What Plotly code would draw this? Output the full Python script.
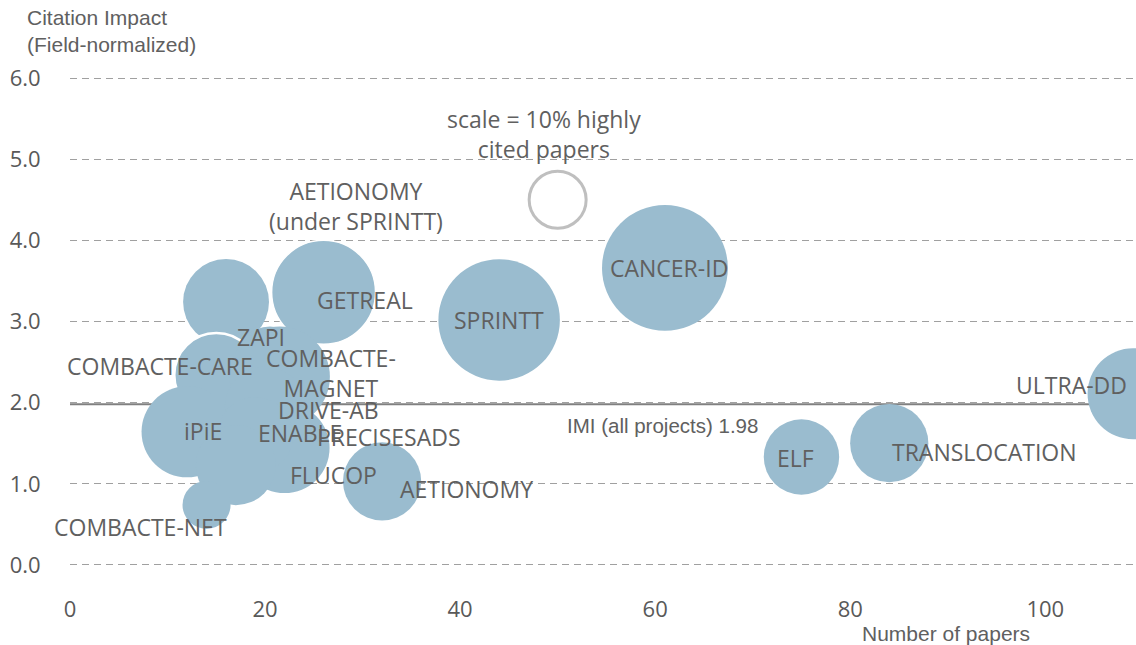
import plotly.graph_objects as go

# ---------------- data ----------------
projects = ["AETIONOMY<br>(under SPRINTT)", "GETREAL", "SPRINTT", "CANCER-ID", "ULTRA-DD",
            "TRANSLOCATION", "ELF", "AETIONOMY", "COMBACTE-CARE", "iPiE", "ZAPI",
            "COMBACTE-<br>MAGNET", "DRIVE-AB", "ENABLE", "PRECISESADS", "FLUCOP", "COMBACTE-NET"]
papers = [16, 26, 44, 61, 109, 84, 75, 32, 15, 12, 20.5, 21.5, 20, 22, 19, 17, 14]
impact = [3.24, 3.36, 3.02, 3.66, 2.11, 1.50, 1.33, 1.03, 2.34, 1.64, 2.5, 2.32, 1.95, 1.44, 1.6, 1.23, 0.74]
highly_cited = [20.5, 30, 41, 44, 23, 17, 15.8, 17, 19.6, 23, 14, 28, 18, 22.5, 16, 17.8, 6.4]

scale_value = 10
scale_x, scale_y = 50, 4.5
imi_all = 1.98

x_ticks = [0, 20, 40, 60, 80, 100]
y_ticks = [0, 1, 2, 3, 4, 5, 6]

# ---------------- style ----------------
label_dx = [13.3, 4.2, 0, 0.4, -6.3, 9.8, -0.6, 8.7, -5.8, 1.6, -0.9, 5.3, 6.5, 1.6, 13.7, 10.0, -6.8]
label_dy = [1.18, -0.1, 0, 0, 0.11, -0.11, -0.01, -0.09, 0.11, 0.01, 0.31, 0.04, -0.04, 0.19, -0.02, -0.12, -0.27]
outline_w = [0, 1.5, 0, 0, 0, 0, 0, 0, 2.5, 0, 0, 0, 0, 0, 0, 0, 0]

BLUE = "#9ABCCF"
TXT = "#606060"
px_per_sqrt = 60 / (scale_value ** 0.5)   # diameter scale (px per sqrt unit)

fig = go.Figure()

fig.add_trace(go.Scatter(
    x=papers, y=impact, mode="markers",
    marker=dict(size=[px_per_sqrt * v ** 0.5 for v in highly_cited], sizemode="diameter",
                color=BLUE, opacity=1,
                line=dict(color="white", width=outline_w)),
    hovertext=projects, showlegend=False, cliponaxis=True))

fig.add_trace(go.Scatter(
    x=[scale_x], y=[scale_y], mode="markers",
    marker=dict(size=px_per_sqrt * scale_value ** 0.5 - 3, color="white",
                line=dict(color="#BFBFBF", width=3)),
    showlegend=False))

annotations = []
for name, x, y, dx, dy in zip(projects, papers, impact, label_dx, label_dy):
    annotations.append(dict(x=x + dx, y=y + dy, text=name, showarrow=False,
                            font=dict(family="Open Sans", size=23, color=TXT)))

annotations.append(dict(x=scale_x - 1.4, y=scale_y + 0.81, text="scale = 10% highly<br>cited papers",
                        showarrow=False, font=dict(family="Open Sans", size=23, color=TXT)))
annotations.append(dict(x=60.7, y=imi_all - 0.26, text=f"IMI (all projects) {imi_all}",
                        showarrow=False, font=dict(family="Liberation Sans", size=20.5, color=TXT)))
annotations.append(dict(xref="paper", yref="paper", x=0, y=1, xshift=-45, yshift=43,
                        xanchor="left", yanchor="middle", align="left",
                        text="Citation Impact<br>(Field-normalized)", showarrow=False,
                        font=dict(family="Liberation Sans", size=21, color=TXT)))
annotations.append(dict(xref="paper", yref="paper", x=0.822, y=0, yshift=-64,
                        xanchor="center", yanchor="middle",
                        text="Number of papers", showarrow=False,
                        font=dict(family="Liberation Sans", size=21, color=TXT)))

fig.add_shape(type="line", xref="paper", yref="y", x0=0, x1=1, y0=imi_all, y1=imi_all,
              line=dict(color="#808080", width=2.2), layer="below")

fig.update_layout(
    width=1136, height=645,
    margin=dict(l=70, r=0, t=74, b=76),
    paper_bgcolor="white", plot_bgcolor="white",
    annotations=annotations,
    xaxis=dict(range=[0, 109.3], tickvals=x_ticks, showgrid=False, zeroline=False,
               showline=False, ticks="outside", ticklen=21, tickcolor="rgba(0,0,0,0)",
               tickfont=dict(family="Open Sans", size=22, color="#595959")),
    yaxis=dict(range=[-0.05, 6.05], tickvals=y_ticks, tickformat=".1f",
               showgrid=True, gridcolor="#A0A0A0", gridwidth=1.3, griddash="7px,5px",
               zeroline=False, showline=False, ticks="outside", ticklen=24,
               tickcolor="rgba(0,0,0,0)",
               tickfont=dict(family="Open Sans", size=22, color="#595959")),
)

fig.write_html("out.html", config={"displayModeBar": False},
               post_script="document.body.style.margin='0';document.body.style.overflow='hidden';")
